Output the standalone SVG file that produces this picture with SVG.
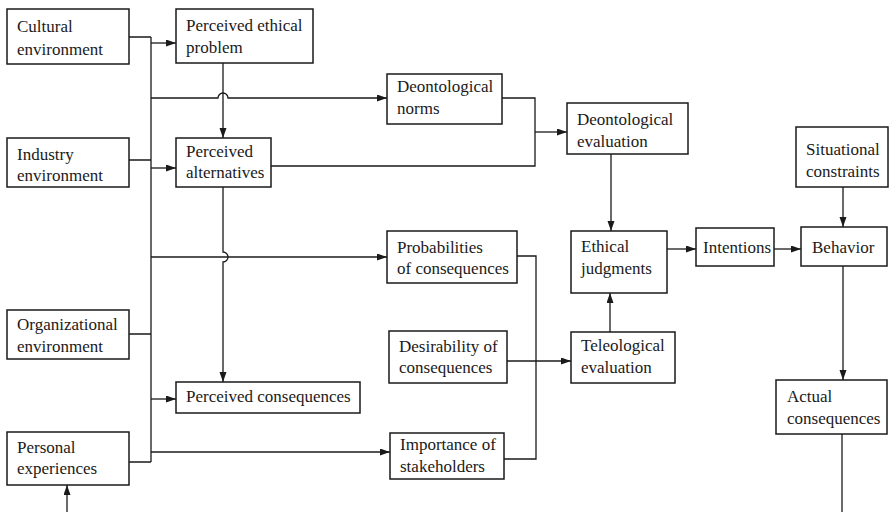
<svg xmlns="http://www.w3.org/2000/svg" width="889" height="512" viewBox="0 0 889 512">
<style>
.box{fill:#fff;stroke:#1a1a1a;stroke-width:1.5}
.t{font-family:"Liberation Serif","Times New Roman",serif;font-size:17px;fill:#1a1a1a}
.c{fill:none;stroke:#1a1a1a;stroke-width:1.3}
.a{marker-end:url(#arr)}
</style>
<defs>
<marker id="arr" markerWidth="11" markerHeight="8" refX="10" refY="3.5" orient="auto" markerUnits="userSpaceOnUse">
<path d="M0,0 L10,3.5 L0,7 z" fill="#1a1a1a"/>
</marker>
</defs>
<rect width="889" height="512" fill="#fff"/>
<g id="connectors">
<path class="c" d="M129 37 H151 M151 37 V462 M129 160 H151 M129 334 H151 M129 462 H151"/>
<path class="c a" d="M151 43 H176"/>
<path class="c a" d="M151 168 H176"/>
<path class="c a" d="M151 399 H176"/>
<path class="c a" d="M151 98 H218 A5 5 0 0 1 228 98 H387"/>
<path class="c a" d="M151 257 H387"/>
<path class="c a" d="M151 452 H390"/>
<path class="c a" d="M223 63 V138"/>
<path class="c a" d="M223 187 V252 A5 5 0 0 1 223 262 V382"/>
<path class="c" d="M502 98 H535 V166 H271"/>
<path class="c a" d="M535 132 H567"/>
<path class="c" d="M517 256 H536 V459 H504"/>
<path class="c a" d="M507 361 H571"/>
<path class="c a" d="M611 154 V231"/>
<path class="c a" d="M610 332 V293"/>
<path class="c a" d="M667 249 H696"/>
<path class="c a" d="M774 249 H801"/>
<path class="c a" d="M843 187 V227"/>
<path class="c a" d="M843 266 V380"/>
<path class="c" d="M842 434 V512"/>
<path class="c a" d="M67 512 V485"/>
</g>
<g id="cultural"><rect class="box" x="7" y="9" width="122" height="55"/><text class="t" x="17" y="32">Cultural</text><text class="t" x="17" y="55">environment</text></g>
<g id="industry"><rect class="box" x="7" y="138" width="122" height="49"/><text class="t" x="17" y="160">Industry</text><text class="t" x="17" y="181">environment</text></g>
<g id="organizational"><rect class="box" x="7" y="310" width="122" height="49"/><text class="t" x="17" y="330">Organizational</text><text class="t" x="17" y="352">environment</text></g>
<g id="personal"><rect class="box" x="7" y="432" width="122" height="53"/><text class="t" x="17" y="453">Personal</text><text class="t" x="17" y="474">experiences</text></g>
<g id="problem"><rect class="box" x="176" y="9" width="137" height="54"/><text class="t" x="186" y="31">Perceived ethical</text><text class="t" x="186" y="53">problem</text></g>
<g id="alternatives"><rect class="box" x="176" y="138" width="95" height="49"/><text class="t" x="186" y="157">Perceived</text><text class="t" x="186" y="178">alternatives</text></g>
<g id="consequences"><rect class="box" x="176" y="382" width="184" height="31"/><text class="t" x="186" y="402">Perceived consequences</text></g>
<g id="norms"><rect class="box" x="387" y="74" width="115" height="50"/><text class="t" x="397" y="92">Deontological</text><text class="t" x="397" y="114">norms</text></g>
<g id="probabilities"><rect class="box" x="387" y="231" width="130" height="52"/><text class="t" x="397" y="253">Probabilities</text><text class="t" x="397" y="274">of consequences</text></g>
<g id="desirability"><rect class="box" x="389" y="331" width="118" height="52"/><text class="t" x="399" y="352">Desirability of</text><text class="t" x="399" y="373">consequences</text></g>
<g id="importance"><rect class="box" x="390" y="433" width="114" height="46"/><text class="t" x="400" y="450">Importance of</text><text class="t" x="400" y="472">stakeholders</text></g>
<g id="deont-eval"><rect class="box" x="567" y="103" width="121" height="51"/><text class="t" x="577" y="125">Deontological</text><text class="t" x="577" y="147">evaluation</text></g>
<g id="ethical"><rect class="box" x="571" y="231" width="96" height="62"/><text class="t" x="581" y="252">Ethical</text><text class="t" x="581" y="274">judgments</text></g>
<g id="teleo-eval"><rect class="box" x="571" y="332" width="104" height="51"/><text class="t" x="581" y="351">Teleological</text><text class="t" x="581" y="373">evaluation</text></g>
<g id="intentions"><rect class="box" x="696" y="228" width="78" height="38"/><text class="t" x="703" y="253">Intentions</text></g>
<g id="behavior"><rect class="box" x="801" y="227" width="86" height="39"/><text class="t" x="812" y="253">Behavior</text></g>
<g id="situational"><rect class="box" x="796" y="127" width="92" height="60"/><text class="t" x="806" y="155">Situational</text><text class="t" x="806" y="177">constraints</text></g>
<g id="actual"><rect class="box" x="776" y="380" width="111" height="54"/><text class="t" x="787" y="402">Actual</text><text class="t" x="787" y="424">consequences</text></g>
</svg>
